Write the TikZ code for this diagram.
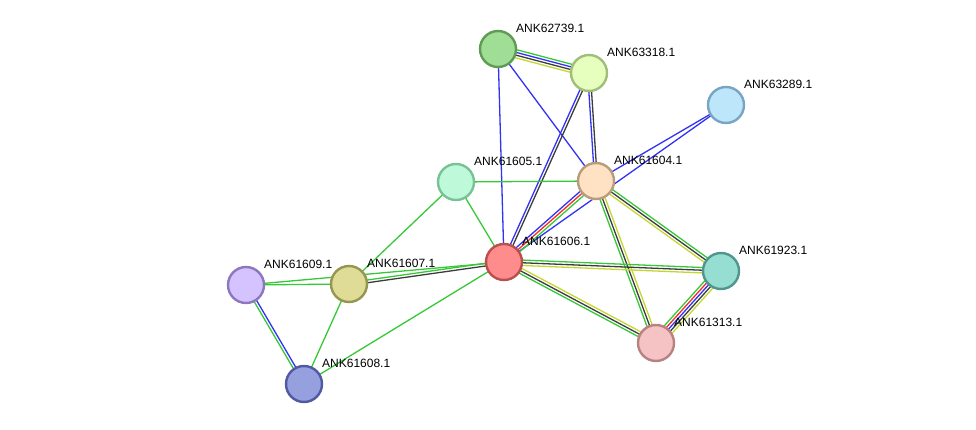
\documentclass[tikz,border=0pt]{standalone}
\usepackage{fontspec}
\setmainfont{Liberation Sans}
\usetikzlibrary{calc,backgrounds}
\definecolor{eg}{RGB}{55,200,55}
\definecolor{eb}{RGB}{50,50,245}
\definecolor{ed}{RGB}{60,60,60}
\definecolor{ey}{RGB}{195,215,50}
\definecolor{er}{RGB}{245,45,45}
\definecolor{fa}{RGB}{160,222,150}\definecolor{ba}{RGB}{95,155,85}
\definecolor{fb}{RGB}{230,255,190}\definecolor{bb}{RGB}{160,190,120}
\definecolor{fc}{RGB}{190,230,250}\definecolor{bc}{RGB}{120,165,195}
\definecolor{fd}{RGB}{190,250,218}\definecolor{bd}{RGB}{120,195,150}
\definecolor{fe}{RGB}{255,225,195}\definecolor{be}{RGB}{185,155,125}
\definecolor{ff}{RGB}{255,140,140}\definecolor{bf}{RGB}{185,80,80}
\definecolor{fg}{RGB}{150,222,210}\definecolor{bg}{RGB}{80,150,140}
\definecolor{fh}{RGB}{245,195,195}\definecolor{bh}{RGB}{185,130,130}
\definecolor{fi}{RGB}{212,195,255}\definecolor{bi}{RGB}{140,120,190}
\definecolor{fj}{RGB}{222,220,150}\definecolor{bj}{RGB}{150,150,80}
\definecolor{fk}{RGB}{150,160,222}\definecolor{bk}{RGB}{80,90,160}
\tikzset{
  prot/.style={circle,minimum size=36pt,inner sep=0pt,line width=2.4pt,fill=f#1,draw=b#1},
  lbl/.style={anchor=south west,inner sep=0pt,font=\fontsize{12}{14}\selectfont},
  edge/.style={line width=1.3pt},
}
\newcommand\medge[3]{%
  \foreach \col [count=\k] in {#3} {\xdef\nmax{\k}}%
  \foreach \col [count=\k] in {#3} {%
    \pgfmathsetlengthmacro\off{(\k-(\nmax+1)/2)*2.7pt}%
    \draw[edge,\col] ($(#1.center)!\off!90:(#2.center)$) -- ($(#2.center)!\off!-90:(#1.center)$);
  }}
\begin{document}
\begin{tikzpicture}[x=1pt,y=-1pt]
\useasboundingbox (0,0) rectangle (976,430);
\node[prot=a] (a) at (498,49) {};
\node[prot=b] (b) at (589,73) {};
\node[prot=c] (c) at (726,105) {};
\node[prot=d] (d) at (456,182) {};
\node[prot=e] (e) at (596,181) {};
\node[prot=f] (f) at (504,262) {};
\node[prot=g] (g) at (721,271) {};
\node[prot=h] (h) at (656,343) {};
\node[prot=i] (i) at (246,285) {};
\node[prot=j] (j) at (349,284) {};
\node[prot=k] (k) at (304,384) {};
\node[lbl] (la) at (516,33) {ANK62739.1};
\node[lbl] (lb) at (607,57) {ANK63318.1};
\node[lbl] (lc) at (744,89) {ANK63289.1};
\node[lbl] (ld) at (474,166) {ANK61605.1};
\node[lbl] (le) at (614,165) {ANK61604.1};
\node[lbl] (lf) at (522,246) {ANK61606.1};
\node[lbl] (lg) at (739,255) {ANK61923.1};
\node[lbl] (lh) at (674,327) {ANK61313.1};
\node[lbl] (li) at (264,269) {ANK61609.1};
\node[lbl] (lj) at (367,268) {ANK61607.1};
\node[lbl] (lk) at (322,368) {ANK61608.1};
\begin{pgfonlayer}{background}
\medge{a}{b}{ey,ed,eb,eg}
\medge{a}{f}{eb}
\medge{a}{e}{eb}
\medge{b}{f}{eb,ed}
\medge{b}{e}{eb,ed}
\medge{c}{e}{eb}
\medge{c}{f}{eb}
\medge{d}{e}{eg}
\medge{d}{f}{eg}
\medge{d}{j}{eg}
\medge{e}{f}{eb,er,eg}
\medge{e}{g}{ey,ed,eg}
\medge{e}{h}{eg,ed,ey}
\medge{f}{g}{ey,ed,eg}
\medge{f}{h}{eg,ed,ey}
\medge{g}{h}{eg,er,eb,ed,ey}
\medge{f}{j}{eg,ed}
\medge{f}{i}{eg}
\medge{f}{k}{eg}
\medge{i}{j}{eg}
\medge{j}{k}{eg}
\medge{i}{k}{eg,eb}
\end{pgfonlayer}
\end{tikzpicture}
\end{document}
